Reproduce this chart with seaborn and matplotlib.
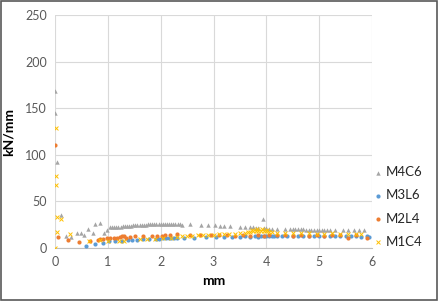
import numpy as np
import pandas as pd
import matplotlib
matplotlib.use("Agg")
import matplotlib.pyplot as plt
import seaborn as sns
from matplotlib.patches import Rectangle

series_names = ["M4C6", "M3L6", "M2L4", "M1C4"]
colors = ["#A5A5A5", "#5B9BD5", "#ED7D31", "#FFC000"]
markers = ["^", "o", "o", "x"]

m4c6_x = [0.0, 0.0, 0.04, 0.12, 0.2, 0.3, 0.42, 0.49, 0.55, 0.62, 0.71, 0.76, 0.85, 0.92, 0.98,
          1.04, 1.08, 1.12, 1.16, 1.2, 1.24, 1.28, 1.32, 1.36, 1.4, 1.44, 1.48, 1.52, 1.56, 1.6,
          1.64, 1.68, 1.72, 1.76, 1.8, 1.84, 1.88, 1.92, 1.96, 2.0, 2.04, 2.08, 2.12, 2.16, 2.2,
          2.24, 2.28, 2.32, 2.36, 2.4, 2.56, 2.77, 2.9, 3.03, 3.13, 3.2, 3.31, 3.5, 3.6, 3.7,
          3.75, 3.8, 3.85, 3.93, 3.95, 4.0, 4.05, 4.1, 4.2, 4.35, 4.45, 4.5, 4.55, 4.6, 4.65,
          4.7, 4.75, 4.8, 4.85, 4.9, 4.95, 5.0, 5.05, 5.1, 5.15, 5.2, 5.3, 5.45, 5.55, 5.65,
          5.75, 5.85]
m4c6_y = [168, 145, 92, 35, 13, 12, 16, 16, 14, 20, 16, 26, 27, 16, 19,
          22, 22, 22.5, 23, 23, 23, 23.5, 23.5, 24, 24, 24, 24.5, 24.5, 24.5, 25,
          25, 25, 25, 25.5, 25.5, 25.5, 25.5, 26, 26, 26, 26, 26, 26, 26, 26,
          26, 26, 25.5, 25.5, 25, 26, 24.7, 25, 24.7, 24, 23.6, 23.6, 22, 22, 22,
          22, 21.5, 21.5, 31, 21, 21, 20.5, 20.5, 20, 20, 20, 20, 20, 20, 20,
          20, 19.5, 19.5, 19.5, 19.5, 19.5, 19.5, 19, 19, 19, 19, 19, 19, 19, 19,
          19, 19]

m3l6_x = [0.59, 0.76, 0.9, 1.02, 1.14, 1.27, 1.38, 1.45, 1.56, 1.67, 1.78, 1.91, 1.97,
          2.05, 2.1, 2.15, 2.2, 2.25, 2.3, 2.45, 2.64, 2.86, 3.05, 3.2, 3.35, 3.5, 3.6,
          3.7, 3.78, 3.85, 3.9, 3.95, 4.0, 4.05, 4.1, 4.15, 4.2, 4.3, 4.4, 4.5, 4.6,
          4.7, 4.8, 4.9, 5.0, 5.1, 5.2, 5.3, 5.4, 5.5, 5.6, 5.7, 5.8, 5.9, 5.95]
m3l6_y = [2, 4.6, 5.4, 8, 7, 7.5, 8.5, 9, 9, 9.5, 9.5, 9.5, 10,
          10.5, 11, 10.5, 10.5, 10.5, 11, 11, 11, 11.5, 11.5, 12, 12, 12, 12.5,
          12, 12.5, 12, 12.5, 12.5, 12.5, 13, 13, 13, 13, 13, 12.5, 13, 13,
          13, 13, 13, 13, 12.5, 12.5, 12.5, 12.5, 12.5, 12.5, 12.5, 12, 12.5, 12]

m2l4_x = [0.0, 0.06, 0.24, 0.46, 0.66, 0.81, 0.85, 0.91, 0.98, 1.05, 1.11, 1.17, 1.23, 1.26,
          1.31, 1.35, 1.42, 1.52, 1.67, 1.83, 1.93, 2.02, 2.08, 2.18, 2.3, 2.56, 2.75, 2.95,
          3.1, 3.25, 3.4, 3.55, 3.7, 3.85, 3.95, 4.05, 4.2, 4.35, 4.5, 4.65, 4.8, 4.95,
          5.1, 5.25, 5.4, 5.55, 5.7, 5.9]
m2l4_y = [110, 11.5, 9, 6, 7, 8.6, 9.3, 10, 10.4, 10.4, 10.4, 11, 11.4, 12.9,
          12.9, 11, 11.4, 12.9, 13.2, 13.2, 12.9, 12.9, 14, 14, 14.7, 14, 14, 13.5,
          14, 13.5, 13, 13.5, 13, 14, 13, 13.5, 14, 13.5, 13, 14, 13, 13.5,
          13, 14, 13.5, 11, 13.5, 11]

m1c4_x = [0.0, 0.02, 0.02, 0.02, 0.04, 0.11, 0.04, 0.28, 0.65, 0.85, 1.0, 1.21, 1.3, 1.6,
          1.75, 1.9, 2.05, 2.2, 2.3, 2.4, 2.5, 2.6, 2.7, 2.8, 2.9, 3.0, 3.1, 3.2, 3.3,
          3.4, 3.5, 3.6, 3.65, 3.7, 3.75, 3.8, 3.85, 3.9, 3.95, 4.0, 4.05, 4.1, 3.72,
          3.82, 3.92, 4.02, 4.2, 4.35, 4.5, 4.65, 4.8, 4.95, 5.1, 5.25, 5.4, 5.55, 5.7, 5.8]
m1c4_y = [0, 129, 77, 68, 33.6, 31, 17, 15, 7.5, 8.6, 8, 7.5, 8, 9.5,
          10, 10, 10.5, 11, 12, 12.5, 13, 13, 13.5, 13.5, 14, 14, 14.5, 15, 15,
          15.5, 16, 16.5, 17, 17.5, 18, 18, 18.5, 18.5, 18, 18, 17.5, 17, 19.5,
          20, 20, 19, 16.5, 16, 16, 16, 16, 15.5, 15.5, 16, 15.5, 15.5, 15.5, 15]

xs = [m4c6_x, m3l6_x, m2l4_x, m1c4_x]
ys = [m4c6_y, m3l6_y, m2l4_y, m1c4_y]

sns.set_theme(style="white")
plt.rcParams["font.family"] = ["Lato", "DejaVu Sans"]

fig = plt.figure(figsize=(4.38, 3.01), dpi=100)
ax = fig.add_axes([55/438, 1-248/301, (372-55)/438, (248-15)/301])

sizes = [10, 9, 9, 8]
for name, x, y, c, m, sz in zip(series_names, xs, ys, colors, markers, sizes):
    d = pd.DataFrame({"mm": x, "kN/mm": y})
    if m == "x":
        sns.scatterplot(data=d, x="mm", y="kN/mm", color=c, marker=m, s=sz,
                        linewidth=0.7, ax=ax, label=name, zorder=3)
    else:
        sns.scatterplot(data=d, x="mm", y="kN/mm", color=c, marker=m, s=sz,
                        linewidth=0, ax=ax, label=name, zorder=3)

ax.set_xlim(0, 6)
ax.set_ylim(0, 250)
ax.set_xticks(range(0, 7))
ax.set_yticks(range(0, 251, 50))
ax.grid(True, color="#D9D9D9", linewidth=0.8)
ax.set_axisbelow(True)
for s in ["top", "right", "left"]:
    ax.spines[s].set_visible(False)
ax.spines["bottom"].set_color("#BFBFBF")
ax.spines["bottom"].set_linewidth(0.8)
ax.tick_params(axis="both", length=0, labelsize=9, colors="#595959", pad=6)
ax.set_xlabel("mm", fontsize=10, fontweight="bold", color="black", labelpad=5)
ax.set_ylabel("kN/mm", fontsize=10, fontweight="bold", color="black")
ax.yaxis.set_label_coords(-40/317, 0.5)

handles, labels = ax.get_legend_handles_labels()
ax.legend_.remove()
leg = fig.legend(handles, labels, loc="center left",
                 bbox_to_anchor=(374/438, 1-207/301),
                 frameon=False, fontsize=9.5, labelspacing=0.85, handletextpad=0.3,
                 handlelength=0.6, markerscale=1.0, borderpad=0, borderaxespad=0)

fig.patches.append(Rectangle((0.002, 0.003), 0.995, 0.994, transform=fig.transFigure,
                             fill=False, edgecolor="#595959", linewidth=1.2))

fig.savefig("out.png", dpi=100)
